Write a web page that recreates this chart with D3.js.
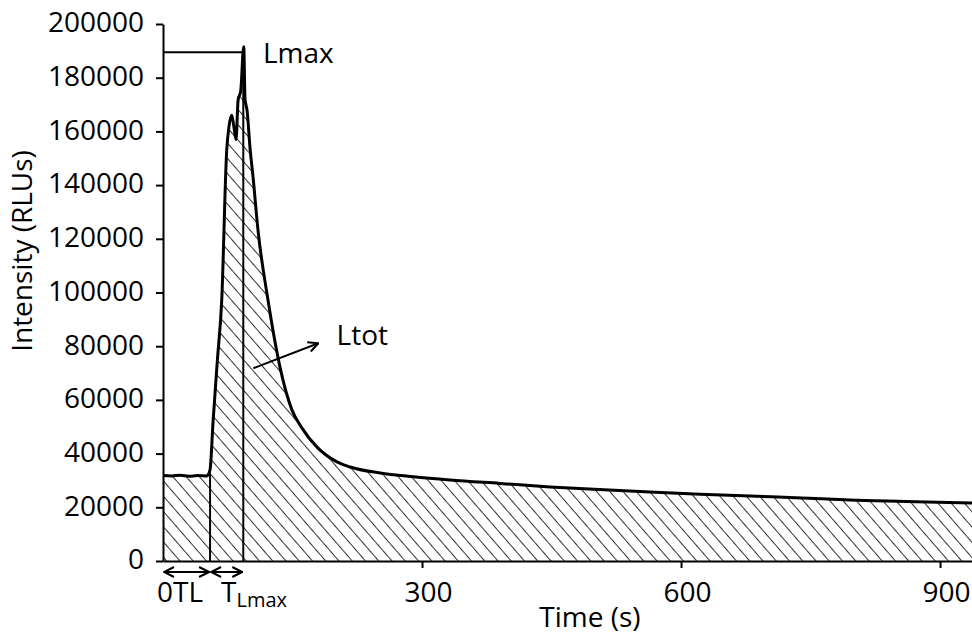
<!DOCTYPE html>
<html>
<head>
<meta charset="utf-8">
<script src="https://cdn.jsdelivr.net/npm/d3@7"></script>
<style>
  body { margin: 0; background: #fff; }
  text { font-family: "Open Sans", sans-serif; fill: #000; }
</style>
</head>
<body>
<div id="chart"></div>
<script>
// data
var times = [0, 10, 20, 30, 40, 50, 52, 54.5, 58, 63, 68, 73.8, 76.5, 79.6, 82, 84.6, 87, 90, 93.5, 95, 97.3, 101, 104, 110, 121.6, 135.5, 149.4, 161, 178.4, 201.5, 216.6, 251.4, 290, 332.4, 390, 448.3, 505, 564, 622, 680, 740, 795.8, 860, 937];
var intensity = [31800, 31700, 31900, 31600, 31800, 31700, 32000, 34000, 52000, 74900, 97000, 153000, 162000, 166000, 162000, 157000, 171700, 175000, 191500, 172000, 168000, 153000, 144000, 123300, 97200, 72200, 56200, 49500, 42400, 36900, 35000, 32800, 31400, 30200, 28900, 27600, 26600, 25700, 24900, 24200, 23500, 22700, 22200, 21600];
var xTicks = [300, 600, 900];
var yTicks = [0, 20000, 40000, 60000, 80000, 100000, 120000, 140000, 160000, 180000, 200000];
var OTL = 54.5, TLmax = 93, Lmax = 189500;

var margin = {top: 24, right: 0, bottom: 74, left: 163},
    width = 972 - margin.left - margin.right,
    height = 635 - margin.top - margin.bottom;

var root = d3.select("#chart")
  .append("svg")
    .attr("width", 972)
    .attr("height", 635);

// hatch pattern + arrow heads
var defs = root.append("defs");
defs.append("pattern")
    .attr("id", "hatch")
    .attr("patternUnits", "userSpaceOnUse")
    .attr("width", 10).attr("height", 10)
    .attr("patternTransform", "rotate(-41)")
  .append("line")
    .attr("x1", 0).attr("y1", 0).attr("x2", 0).attr("y2", 10)
    .attr("stroke", "#000").attr("stroke-width", 1.6);
defs.append("marker")
    .attr("id", "head")
    .attr("viewBox", "0 0 12 12")
    .attr("refX", 11).attr("refY", 6)
    .attr("markerWidth", 12).attr("markerHeight", 12)
    .attr("markerUnits", "userSpaceOnUse")
    .attr("orient", "auto-start-reverse")
  .append("path")
    .attr("d", "M1,1 L11,6 L1,11")
    .attr("fill", "none").attr("stroke", "#000").attr("stroke-width", 2);

var svg = root.append("g")
    .attr("transform", "translate(" + margin.left + "," + margin.top + ")");

var x = d3.scaleLinear().domain([0, 937]).range([0, width]);
var y = d3.scaleLinear().domain([0, 200000]).range([height, 0]);

var data = times.map(function(t, i) { return {t: t, v: intensity[i]}; });

// hatched area under the curve
svg.append("path")
  .datum(data)
  .attr("fill", "url(#hatch)")
  .attr("d", d3.area()
    .x(function(d) { return x(d.t); })
    .y0(y(0))
    .y1(function(d) { return y(d.v); })
    .curve(d3.curveMonotoneX));

// the curve
svg.append("path")
  .datum(data)
  .attr("fill", "none")
  .attr("stroke", "#000")
  .attr("stroke-width", 3)
  .attr("stroke-linejoin", "round")
  .attr("d", d3.line()
    .x(function(d) { return x(d.t); })
    .y(function(d) { return y(d.v); })
    .curve(d3.curveMonotoneX));

// guide lines
svg.append("line")
  .attr("x1", x(OTL)).attr("x2", x(OTL))
  .attr("y1", y(0)).attr("y2", y(33000))
  .attr("stroke", "#000").attr("stroke-width", 2);
svg.append("line")
  .attr("x1", x(TLmax)).attr("x2", x(TLmax))
  .attr("y1", y(0)).attr("y2", y(Lmax))
  .attr("stroke", "#000").attr("stroke-width", 2);
svg.append("line")
  .attr("x1", x(0)).attr("x2", x(TLmax))
  .attr("y1", y(Lmax)).attr("y2", y(Lmax))
  .attr("stroke", "#000").attr("stroke-width", 2);

// axes
var yAxis = svg.append("g")
  .call(d3.axisLeft(y).tickValues(yTicks).tickSize(7).tickSizeOuter(0).tickPadding(12).tickFormat(d3.format("d")));
var xAxis = svg.append("g")
  .attr("transform", "translate(0," + height + ")")
  .call(d3.axisBottom(x).tickValues(xTicks).tickSize(7).tickSizeOuter(0).tickPadding(14).tickFormat(d3.format("d")));
[yAxis, xAxis].forEach(function(a) {
  a.select(".domain").attr("stroke", "#000").attr("stroke-width", 2);
  a.selectAll(".tick line").attr("stroke", "#000").attr("stroke-width", 2);
  a.selectAll("text").style("font-size", "28px").style("font-family", "'Open Sans', sans-serif").attr("fill", "#000");
});
yAxis.selectAll("text").attr("dy", "0.28em");
xAxis.selectAll("text").attr("dx", 6).attr("dy", "0.72em");

// arrows below the axis
svg.append("line")
  .attr("x1", x(0) + 1).attr("x2", x(OTL) - 1)
  .attr("y1", height + 11).attr("y2", height + 11)
  .attr("stroke", "#000").attr("stroke-width", 2)
  .attr("marker-start", "url(#head)").attr("marker-end", "url(#head)");
svg.append("line")
  .attr("x1", x(OTL) + 1).attr("x2", x(TLmax) - 1)
  .attr("y1", height + 11).attr("y2", height + 11)
  .attr("stroke", "#000").attr("stroke-width", 2)
  .attr("marker-start", "url(#head)").attr("marker-end", "url(#head)");

svg.append("text")
  .attr("x", x(0) - 6).attr("y", height + 41)
  .style("font-size", "28px")
  .text("0TL");
var tl = svg.append("text")
  .attr("x", x(OTL) + 11).attr("y", height + 41)
  .style("font-size", "28px");
tl.append("tspan").text("T");
tl.append("tspan").attr("dy", 5).style("font-size", "20px").text("Lmax");

// Lmax / Ltot labels
svg.append("text")
  .attr("x", x(115.8)).attr("y", y(185400))
  .style("font-size", "28px")
  .text("Lmax");
svg.append("line")
  .attr("x1", x(104.6)).attr("y1", y(71800))
  .attr("x2", x(179.9)).attr("y2", y(81100))
  .attr("stroke", "#000").attr("stroke-width", 2)
  .attr("marker-end", "url(#head)");
svg.append("text")
  .attr("x", x(201)).attr("y", y(80400))
  .style("font-size", "28px")
  .text("Ltot");

// axis titles
svg.append("text")
  .attr("text-anchor", "middle")
  .attr("x", 590 - margin.left)
  .attr("y", 627 - margin.top)
  .style("font-size", "28px")
  .text("Time (s)");
svg.append("text")
  .attr("text-anchor", "middle")
  .attr("transform", "rotate(-90)")
  .attr("x", -(251 - margin.top))
  .attr("y", 32 - margin.left)
  .style("font-size", "28px")
  .text("Intensity (RLUs)");
</script>
</body>
</html>
